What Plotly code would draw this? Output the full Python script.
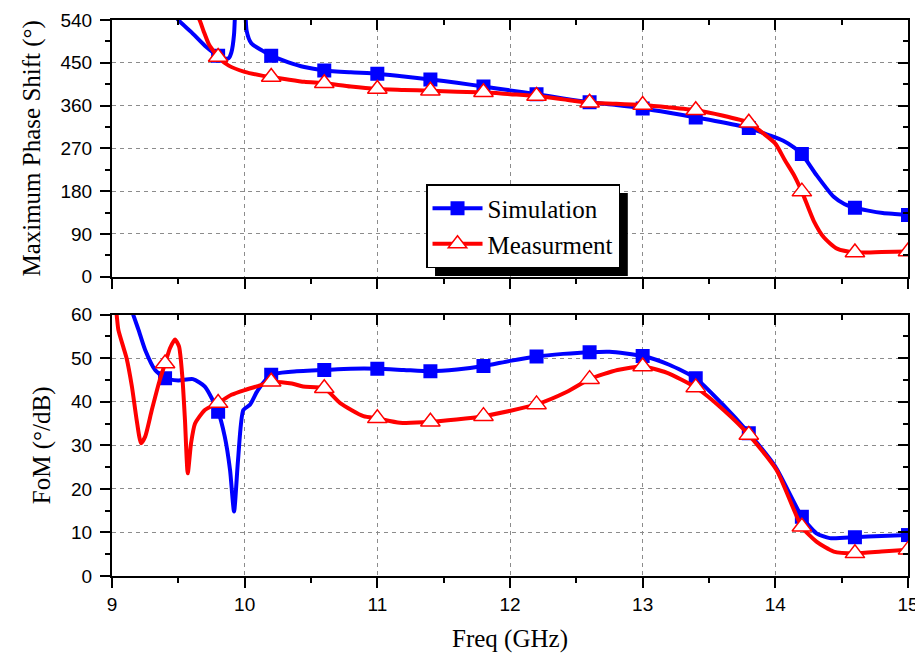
import plotly.graph_objects as go

# ---------------- data ----------------
# Top panel: Maximum Phase Shift (deg)
sim_top_f = [9.0, 9.2, 9.4, 9.5, 9.6, 9.7, 9.8, 9.85, 9.88, 9.9, 9.92, 9.935, 9.97, 10.0,
             10.015, 10.05, 10.13, 10.2, 10.33, 10.45, 10.6, 10.8, 11.0, 11.2, 11.4, 11.6,
             11.8, 12.0, 12.2, 12.4, 12.6, 12.8, 13.0, 13.2, 13.4, 13.6, 13.8, 13.95, 14.06,
             14.14, 14.2, 14.31, 14.44, 14.52, 14.6, 14.7, 14.81, 14.9, 15.0]
sim_top_v = [760, 660, 580, 540, 514, 486, 465, 459, 460, 472, 510, 620, 900, 620,
             517, 491, 476, 465, 451, 441, 434, 430, 427, 421, 415, 408,
             400, 392, 384, 375, 367, 361, 354, 345, 335, 325, 313, 298, 286,
             272, 258, 214, 168, 153, 145, 139, 134, 132, 130]

meas_top_f = [9.0, 9.2, 9.4, 9.5, 9.6, 9.66, 9.69, 9.73, 9.78, 9.8, 9.88, 10.0, 10.13, 10.2,
              10.3, 10.45, 10.6, 10.8, 11.0, 11.2, 11.4, 11.6, 11.8, 12.0, 12.2, 12.4, 12.6,
              12.8, 13.0, 13.2, 13.4, 13.6, 13.8, 13.87, 14.0, 14.07, 14.14, 14.2, 14.29,
              14.365, 14.465, 14.6, 14.8, 15.0]
meas_top_v = [1000, 800, 680, 620, 570, 540, 517, 489, 469, 462, 444, 431, 423, 420,
              416, 410, 407, 400, 395, 393, 391, 389, 388, 384, 380, 373, 366,
              364, 361, 356, 350, 339, 324, 310, 280, 246, 214, 179, 117,
              83, 59, 51, 52, 53]

# Bottom panel: FoM (deg/dB)
sim_bot_f = [9.0, 9.1, 9.16, 9.2, 9.25, 9.325, 9.4, 9.5, 9.61, 9.7, 9.8, 9.85, 9.89, 9.92,
             9.95, 9.99, 10.04, 10.1, 10.2, 10.35, 10.6, 10.8, 11.0, 11.2, 11.4, 11.6, 11.8,
             12.0, 12.2, 12.4, 12.6, 12.75, 13.0, 13.2, 13.4, 13.6, 13.8, 14.0, 14.2, 14.31,
             14.41, 14.6, 14.8, 15.0]
sim_bot_v = [75, 66, 60, 56.5, 51.9, 47.3, 45.4, 44.9, 45.2, 43.5, 37.7, 32.0, 24.3, 14.8,
             26.6, 38.1, 39.3, 42.7, 46.2, 46.9, 47.3, 47.6, 47.6, 47.3, 47.0, 47.4, 48.2,
             49.4, 50.4, 51.0, 51.4, 51.5, 50.5, 48.5, 45.4, 39.5, 32.8, 25.1, 13.6, 9.8,
             8.7, 8.9, 9.2, 9.4]

meas_bot_f = [9.0, 9.035, 9.048, 9.085, 9.11, 9.15, 9.186, 9.219, 9.25, 9.3, 9.36, 9.4,
              9.437, 9.475, 9.505, 9.53, 9.55, 9.571, 9.596, 9.626, 9.7, 9.8, 9.9, 10.0,
              10.1, 10.2, 10.355, 10.44, 10.6, 10.72, 10.895, 11.0, 11.17, 11.4, 11.8, 12.2,
              12.43, 12.6, 12.81, 13.0, 13.18, 13.4, 13.61, 13.8, 14.01, 14.2, 14.31, 14.44,
              14.6, 14.8, 15.0]
meas_bot_v = [68, 60, 56.5, 52.6, 50.0, 43.5, 35.8, 30.5, 32.0, 38.1, 45.0, 48.8,
              52.3, 54.3, 52.7, 45.8, 35.8, 23.6, 30.5, 35.0, 38.1, 39.7, 41.6, 42.7,
              43.6, 44.6, 44.2, 43.5, 43.1, 39.7, 36.7, 36.2, 35.2, 35.4, 36.7, 39.4,
              42.3, 45.2, 47.3, 48.1, 46.7, 43.3, 38.1, 32.4, 24.3, 11.3, 7.9, 5.6,
              5.2, 5.6, 6.0]

# frequencies where symbols are drawn
marker_f = [9.4, 9.8, 10.2, 10.6, 11.0, 11.4, 11.8, 12.2, 12.6, 13.0, 13.4, 13.8, 14.2, 14.6, 15.0]

series_names = ["Simulation", "Measurment"]
x_ticks = [9, 10, 11, 12, 13, 14, 15]
top_ticks = [0, 90, 180, 270, 360, 450, 540]
bot_ticks = [0, 10, 20, 30, 40, 50, 60]

# ---------------- styling ----------------
BLUE = "#0000FF"
RED = "#FF0000"
SERIF = "Liberation Serif, Times New Roman, serif"
SANS = "Liberation Sans, Arial, sans-serif"
LW = 4

sim_marker = dict(symbol="square", size=14, color=BLUE, line=dict(width=0))
meas_marker = dict(symbol="triangle-up", size=17, color="white", line=dict(color=RED, width=1.5))


def pick(fs, vs):
    xs, ys = [], []
    for f, v in zip(fs, vs):
        if any(abs(f - m) < 1e-9 for m in marker_f):
            xs.append(f)
            ys.append(v)
    return xs, ys


fig = go.Figure()

for fs, vs, col, mk, xa, ya in [
    (sim_top_f, sim_top_v, BLUE, sim_marker, "x", "y"),
    (meas_top_f, meas_top_v, RED, meas_marker, "x", "y"),
    (sim_bot_f, sim_bot_v, BLUE, sim_marker, "x2", "y2"),
    (meas_bot_f, meas_bot_v, RED, meas_marker, "x2", "y2"),
]:
    fig.add_trace(go.Scatter(x=fs, y=vs, mode="lines", xaxis=xa, yaxis=ya,
                             line=dict(color=col, width=LW, shape="spline", smoothing=0.6),
                             showlegend=False, hoverinfo="skip"))
    mx, my = pick(fs, vs)
    fig.add_trace(go.Scatter(x=mx, y=my, mode="markers", xaxis=xa, yaxis=ya,
                             marker=mk, showlegend=False))

# legend entries
fig.add_trace(go.Scatter(x=[None], y=[None], mode="lines+markers", name=series_names[0],
                         line=dict(color=BLUE, width=LW), marker=sim_marker, xaxis="x", yaxis="y"))
fig.add_trace(go.Scatter(x=[None], y=[None], mode="lines+markers", name=series_names[1],
                         line=dict(color=RED, width=LW), marker=meas_marker, xaxis="x", yaxis="y"))

# dummy traces so the mirror (top/right) axes are drawn
fig.add_trace(go.Scatter(x=[None], y=[None], xaxis="x3", yaxis="y3", showlegend=False, hoverinfo="skip"))
fig.add_trace(go.Scatter(x=[None], y=[None], xaxis="x4", yaxis="y4", showlegend=False, hoverinfo="skip"))

tick_font = dict(family=SANS, size=19, color="black")
title_font = dict(family=SERIF, size=25, color="black")
grid = dict(showgrid=True, gridcolor="#8c8c8c", gridwidth=1, griddash="4px,4px")
line = dict(showline=True, linecolor="black", linewidth=2, zeroline=False, automargin=False)


def xmain(show_labels, anchor):
    d = dict(range=[9, 15], tickmode="array", tickvals=x_ticks, ticks="outside", ticklen=10,
             tickwidth=2, tickcolor="black", showticklabels=show_labels, tickfont=tick_font,
             ticklabeloverflow="allow",
             minor=dict(dtick=0.5, ticks="outside", ticklen=5, tickwidth=2, tickcolor="black",
                        showgrid=False),
             anchor=anchor, **grid, **line)
    return d


def xmirror(over, anchor):
    return dict(range=[9, 15], overlaying=over, anchor=anchor, side="top", tickmode="array",
                tickvals=x_ticks, ticks="inside", ticklen=10, tickwidth=2, tickcolor="black",
                showticklabels=False, showgrid=False,
                minor=dict(dtick=0.5, ticks="inside", ticklen=5, tickwidth=2, tickcolor="black",
                           showgrid=False),
                **line)


def ymain(rng, vals, minor, domain, anchor, title):
    return dict(range=rng, tickmode="array", tickvals=vals, ticks="outside", ticklen=10,
                tickwidth=2, tickcolor="black", tickfont=tick_font, domain=domain, anchor=anchor,
                ticklabelstandoff=4, ticklabeloverflow="allow",
                minor=dict(dtick=minor, ticks="outside", ticklen=5, tickwidth=2, tickcolor="black",
                           showgrid=False),
                title=dict(text=title, font=title_font, standoff=13), **grid, **line)


def ymirror(rng, vals, minor, over, anchor):
    return dict(range=rng, overlaying=over, anchor=anchor, side="right", tickmode="array",
                tickvals=vals, ticks="inside", ticklen=10, tickwidth=2, tickcolor="black",
                showticklabels=False, showgrid=False,
                minor=dict(dtick=minor, ticks="inside", ticklen=5, tickwidth=2, tickcolor="black",
                           showgrid=False),
                **line)


fig.update_layout(
    width=923, height=658,
    margin=dict(l=104, r=23, t=12, b=90, autoexpand=False),
    paper_bgcolor="white", plot_bgcolor="white",
    xaxis=xmain(False, "y"),
    xaxis2=dict(**xmain(True, "y2"),
                title=dict(text="Freq (GHz)", font=title_font, standoff=16)),
    xaxis3=xmirror("x", "y"),
    xaxis4=xmirror("x2", "y2"),
    yaxis=ymain([0, 540], top_ticks, 45, [0.5383, 1.0], "x", "Maximum Phase Shift (°)"),
    yaxis2=ymain([0, 60], bot_ticks, 5, [0.0, 0.470], "x2", "FoM (°/dB)"),
    yaxis3=ymirror([0, 540], top_ticks, 45, "y", "x"),
    yaxis4=ymirror([0, 60], bot_ticks, 5, "y2", "x2"),
    legend=dict(x=0.3945, y=0.705, xanchor="left", yanchor="top",
                bgcolor="white", bordercolor="black", borderwidth=1.5,
                font=dict(family=SERIF, size=25, color="black"), itemwidth=50),
    shapes=[dict(type="rect", xref="paper", yref="paper", layer="above",
                 x0=0.4058, x1=0.648, y0=0.5396, y1=0.6888,
                 fillcolor="black", line=dict(width=0))],
    showlegend=True,
)

fig.write_html("out.html")
